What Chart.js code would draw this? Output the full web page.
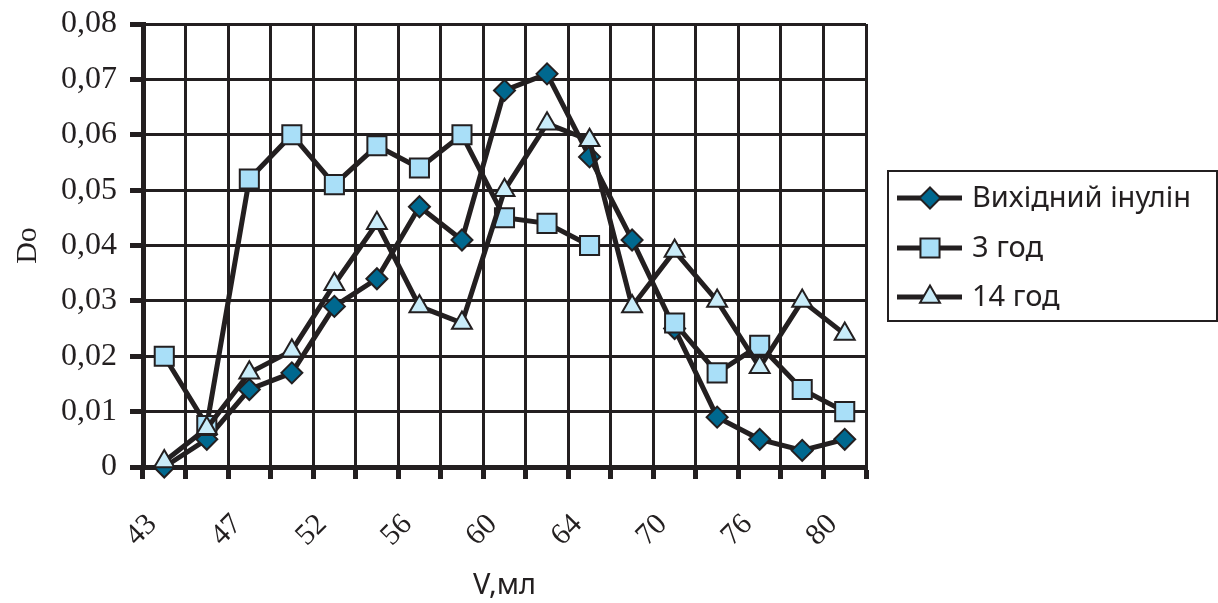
<!DOCTYPE html>
<html>
<head>
<meta charset="utf-8">
<script src="https://cdn.jsdelivr.net/npm/chart.js@4.4.1/dist/chart.umd.min.js"></script>
<style>
  html, body { margin: 0; padding: 0; background: #ffffff; }
  canvas { display: block; }
</style>
</head>
<body>
<canvas id="chart" width="1218" height="603"></canvas>
<script>
// Elution volume (ml); only every second fraction carries a printed label
const volumeLabels = ['43', '', '47', '', '52', '', '56', '', '60', '', '64', '', '70', '', '76', '', '80'];

// Optical density Do of each fraction
const inulinSource = [0, 0.005, 0.014, 0.017, 0.029, 0.034, 0.047, 0.041, 0.068, 0.071, 0.056, 0.041, 0.025, 0.009, 0.005, 0.003, 0.005];
const hours3 = [0.020, 0.0075, 0.052, 0.060, 0.051, 0.058, 0.054, 0.060, 0.045, 0.044, 0.040, null, 0.026, 0.017, 0.022, 0.014, 0.010];
const hours14 = [0.001, 0.007, 0.017, 0.021, 0.033, 0.044, 0.029, 0.026, 0.050, 0.062, 0.059, 0.029, 0.039, 0.030, 0.018, 0.030, 0.024];

const seriesNames = ['Вихідний інулін', '3 год', '14 год'];
const yTicks = [0, 0.01, 0.02, 0.03, 0.04, 0.05, 0.06, 0.07, 0.08];

const INK = '#231f20';
const SERIF = '"Liberation Serif", "DejaVu Serif", serif';
const SANS = '"Noto Sans", "DejaVu Sans", sans-serif';

const styles = [
  { pointStyle: 'rectRot', radius: 10.5, fill: '#00688f', order: 3 },
  { pointStyle: 'rect', radius: 13.5, fill: '#a9dff8', order: 2 },
  { pointStyle: 'triangle', radius: 11.5, fill: '#c9ecf9', order: 1 }
];

function makeDataset(name, values, st) {
  return {
    label: name,
    data: values,
    order: st.order,
    borderColor: INK,
    borderWidth: 5,
    tension: 0,
    spanGaps: false,
    clip: false,
    pointStyle: st.pointStyle,
    pointRadius: st.radius,
    pointHoverRadius: st.radius,
    pointBackgroundColor: st.fill,
    pointBorderColor: INK,
    pointBorderWidth: 2
  };
}

// Boxed legend on the right: line sample with marker, then the series name
const boxedLegend = {
  id: 'boxedLegend',
  afterDraw(chart) {
    const ctx = chart.ctx;
    const box = { x: 888, y: 171, w: 329, h: 150 };
    const rows = [198, 248, 297];
    ctx.save();
    ctx.strokeStyle = INK;
    ctx.lineWidth = 2;
    ctx.strokeRect(box.x, box.y, box.w, box.h);
    chart.data.datasets.forEach((ds, i) => {
      const y = rows[i];
      ctx.beginPath();
      ctx.strokeStyle = INK;
      ctx.lineWidth = 5;
      ctx.moveTo(897, y);
      ctx.lineTo(962, y);
      ctx.stroke();
      ctx.fillStyle = ds.pointBackgroundColor;
      ctx.strokeStyle = INK;
      ctx.lineWidth = 2;
      Chart.helpers.drawPoint(ctx, {
        pointStyle: ds.pointStyle,
        radius: ds.pointRadius,
        rotation: 0,
        borderWidth: 2
      }, 930, y);
      ctx.fillStyle = INK;
      ctx.font = '29px ' + SANS;
      ctx.textAlign = 'left';
      ctx.textBaseline = 'middle';
      ctx.fillText(ds.label, 972, y + 1);
    });
    ctx.restore();
  }
};

// Keep the plot frame where the layout padding puts it (no extra room for edge labels)
function dropEdgePadding(scale) {
  scale.paddingTop = 0;
  scale.paddingBottom = 0;
  scale.paddingLeft = 0;
  scale.paddingRight = 0;
}

new Chart(document.getElementById('chart'), {
  type: 'line',
  data: {
    labels: volumeLabels,
    datasets: [
      makeDataset(seriesNames[0], inulinSource, styles[0]),
      makeDataset(seriesNames[1], hours3, styles[1]),
      makeDataset(seriesNames[2], hours14, styles[2])
    ]
  },
  options: {
    responsive: false,
    animation: false,
    devicePixelRatio: 1,
    layout: { padding: { left: 0, top: 24, right: 352, bottom: 0 } },
    plugins: {
      legend: { display: false },
      tooltip: { enabled: false }
    },
    scales: {
      x: {
        type: 'category',
        offset: true,
        afterFit(scale) { scale.height = 136; dropEdgePadding(scale); },
        grid: {
          offset: true,
          color: INK,
          lineWidth: 3,
          drawTicks: true,
          tickLength: 12,
          tickWidth: 5,
          tickColor: INK
        },
        border: { display: true, color: INK, width: 5 },
        ticks: {
          autoSkip: false,
          minRotation: 45,
          maxRotation: 45,
          padding: 28,
          labelOffset: -12,
          color: INK,
          font: { family: SERIF, size: 30 }
        },
        title: {
          display: true,
          text: 'V,мл',
          color: INK,
          font: { family: SANS, size: 29 },
          padding: { top: 0, bottom: 0 }
        }
      },
      y: {
        min: 0,
        max: 0.08,
        afterFit(scale) { scale.width = 143; dropEdgePadding(scale); },
        afterBuildTicks(scale) { scale.ticks = yTicks.map(v => ({ value: v })); },
        grid: {
          color: INK,
          lineWidth: 3,
          drawTicks: true,
          tickLength: 13,
          tickWidth: 5,
          tickColor: INK
        },
        border: { display: true, color: INK, width: 5 },
        ticks: {
          padding: 13,
          color: INK,
          font: { family: SERIF, size: 32 },
          callback: v => (v === 0 ? '0' : v.toFixed(2).replace('.', ','))
        },
        title: {
          display: true,
          text: 'Do',
          color: INK,
          font: { family: SERIF, size: 30 },
          padding: { top: 10, bottom: 0 }
        }
      }
    }
  },
  plugins: [boxedLegend]
});
</script>
</body>
</html>
